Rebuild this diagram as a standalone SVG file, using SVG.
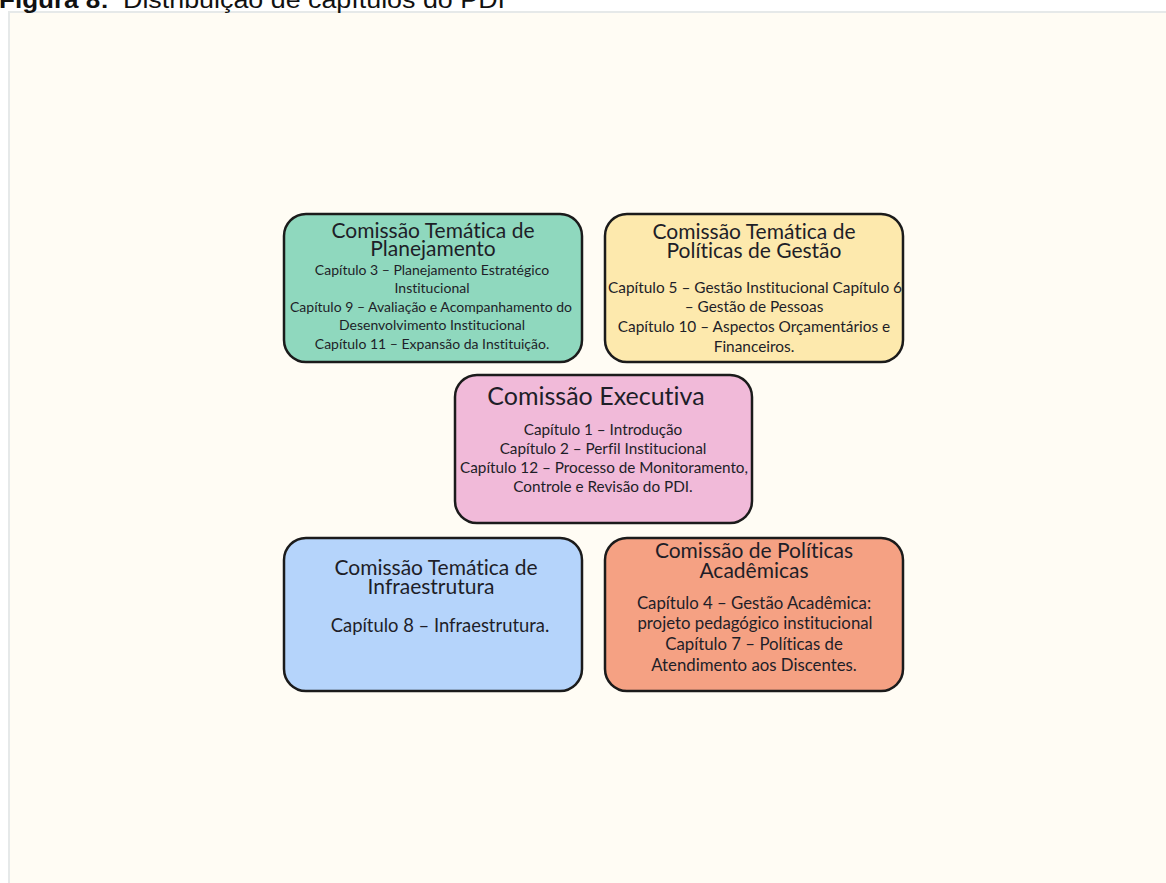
<svg xmlns="http://www.w3.org/2000/svg" width="1166" height="883" viewBox="0 0 1166 883">
  <style>
    .caption { font-family: "Liberation Sans", Arial, sans-serif; font-size: 23px; fill: #111; }
    .box { stroke: #1b1b1b; stroke-width: 2.5; }
    text.t { font-family: Lato, "Liberation Sans", sans-serif; fill: #1e1e28; text-anchor: middle;
             font-variant-ligatures: none; font-feature-settings: "liga" 0, "clig" 0; }
    .title { font-size: 21px; }
  </style>

  <rect x="0" y="0" width="1166" height="883" fill="#ffffff"/>
  <!-- canvas panel -->
  <rect x="9" y="12" width="1170" height="880" fill="#fffcf4" stroke="#e6e9e9" stroke-width="2"/>

  <!-- caption, partly above the top edge -->
  <text class="caption" y="8"><tspan x="-1" font-weight="bold" textLength="110" lengthAdjust="spacingAndGlyphs">Figura 8:</tspan><tspan x="123" textLength="382" lengthAdjust="spacingAndGlyphs">Distribuição de capítulos do PDI</tspan></text>

  <g id="planejamento">
    <rect class="box" x="284" y="214" width="298" height="148" rx="22" fill="#8fd8be"/>
    <text class="t title" x="433" y="238">Comissão Temática de</text>
    <text class="t title" x="433" y="256">Planejamento</text>
    <text class="t" x="432" y="275" font-size="14">Capítulo 3 – Planejamento Estratégico</text>
    <text class="t" x="432" y="293" font-size="14">Institucional</text>
    <text class="t" x="431" y="312" font-size="14">Capítulo 9 – Avaliação e Acompanhamento do</text>
    <text class="t" x="432" y="330" font-size="14">Desenvolvimento Institucional</text>
    <text class="t" x="432" y="349" font-size="14">Capítulo 11 – Expansão da Instituição.</text>
  </g>

  <g id="gestao">
    <rect class="box" x="605" y="214" width="298" height="148" rx="22" fill="#fde9ad"/>
    <text class="t title" x="754" y="239">Comissão Temática de</text>
    <text class="t title" x="754" y="258">Políticas de Gestão</text>
    <text class="t" x="755" y="293" font-size="15.4">Capítulo 5 – Gestão Institucional Capítulo 6</text>
    <text class="t" x="754" y="312" font-size="15.4">– Gestão de Pessoas</text>
    <text class="t" x="754" y="332" font-size="15.4">Capítulo 10 – Aspectos Orçamentários e</text>
    <text class="t" x="754" y="352" font-size="15.4">Financeiros.</text>
  </g>

  <g id="executiva">
    <rect class="box" x="455" y="375" width="297" height="148" rx="22" fill="#f1bad9"/>
    <text class="t" x="596" y="405" font-size="25">Comissão Executiva</text>
    <text class="t" x="603" y="435" font-size="15.3">Capítulo 1 – Introdução</text>
    <text class="t" x="603" y="454" font-size="15.3">Capítulo 2 – Perfil Institucional</text>
    <text class="t" x="604" y="473" font-size="15.3">Capítulo 12 – Processo de Monitoramento,</text>
    <text class="t" x="603" y="492" font-size="15.3">Controle e Revisão do PDI.</text>
  </g>

  <g id="infraestrutura">
    <rect class="box" x="284" y="538" width="298" height="153" rx="22" fill="#b5d4fb"/>
    <text class="t title" x="436" y="575">Comissão Temática de</text>
    <text class="t title" x="431" y="594">Infraestrutura</text>
    <text class="t" x="440" y="632" font-size="18.4">Capítulo 8 – Infraestrutura.</text>
  </g>

  <g id="academicas">
    <rect class="box" x="605" y="538" width="298" height="153" rx="22" fill="#f5a183"/>
    <text class="t title" x="754" y="558">Comissão de Políticas</text>
    <text class="t title" x="754" y="578">Acadêmicas</text>
    <text class="t" x="754" y="609" font-size="16.8">Capítulo 4 – Gestão Acadêmica:</text>
    <text class="t" x="755" y="629" font-size="16.8">projeto pedagógico institucional</text>
    <text class="t" x="754" y="650" font-size="16.8">Capítulo 7 – Políticas de</text>
    <text class="t" x="754" y="671" font-size="16.8">Atendimento aos Discentes.</text>
  </g>

  <g id="connectors"/>
</svg>
